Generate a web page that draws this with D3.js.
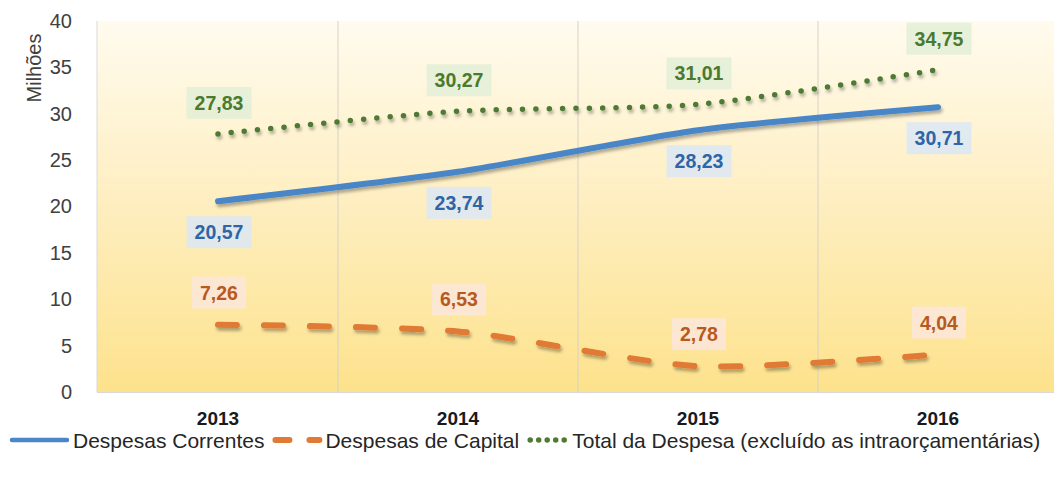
<!DOCTYPE html>
<html>
<head>
<meta charset="utf-8">
<script src="https://cdn.jsdelivr.net/npm/d3@7"></script>
<style>
  body { margin: 0; background: #fff; }
  svg { display: block; }
  text { font-family: "Liberation Sans", Arial, sans-serif; }
</style>
</head>
<body>
<svg id="chart" width="1054" height="478"></svg>
<script>
const years = ["2013", "2014", "2015", "2016"];
const correntes = [20.57, 23.74, 28.23, 30.71];
const capital = [7.26, 6.53, 2.78, 4.04];
const total = [27.83, 30.27, 31.01, 34.75];
const yTicks = [0, 5, 10, 15, 20, 25, 30, 35, 40];

const series = [
  { name: "Despesas Correntes", values: correntes, color: "#4a86c8", text: "#2f64a6", box: "#dce8f6", width: 6, dash: null, labelDy: 31 },
  { name: "Despesas de Capital", values: capital, color: "#e07a35", text: "#b85a1e", box: "#fbe6da", width: 6, dash: "19 27", labelDy: -32 },
  { name: "Total da Despesa (excluído as intraorçamentárias)", values: total, color: "#4f7a34", text: "#4a7a30", box: "#e3eed7", width: 5.5, dash: "0 13.3", labelDy: -31 },
];

const svg = d3.select("#chart");
const plot = { left: 97, right: 1058, top: 21, bottom: 392 };

const x = d3.scaleBand().domain(years).range([plot.left + 1, plot.right]);
const y = d3.scaleLinear().domain([0, 40]).range([plot.bottom, plot.top]);

const defs = svg.append("defs");
const grad = defs.append("linearGradient").attr("id", "bg").attr("x1", 0).attr("y1", 0).attr("x2", 0).attr("y2", 1);
grad.append("stop").attr("offset", "0%").attr("stop-color", "#fffbee");
grad.append("stop").attr("offset", "45%").attr("stop-color", "#feefc4");
grad.append("stop").attr("offset", "100%").attr("stop-color", "#fde28c");

defs.append("filter").attr("id", "shadow").attr("x", "-10%").attr("y", "-50%").attr("width", "120%").attr("height", "200%")
  .append("feDropShadow").attr("dx", 1.5).attr("dy", 3).attr("stdDeviation", 1.8)
  .attr("flood-color", "#000").attr("flood-opacity", 0.3);

svg.append("rect")
  .attr("x", plot.left).attr("y", plot.top)
  .attr("width", plot.right - plot.left).attr("height", plot.bottom - plot.top)
  .attr("fill", "url(#bg)");

// vertical gridlines between categories
svg.append("g").selectAll("line")
  .data(years.slice(0, -1))
  .join("line")
  .attr("x1", d => x(d) + x.bandwidth()).attr("x2", d => x(d) + x.bandwidth())
  .attr("y1", plot.top).attr("y2", plot.bottom)
  .attr("stroke", "#d6d2c8").attr("stroke-width", 1);

svg.append("line").attr("x1", plot.left).attr("x2", plot.left).attr("y1", plot.top).attr("y2", plot.bottom)
  .attr("stroke", "#d9d9d9");
svg.append("line").attr("x1", plot.left).attr("x2", plot.right).attr("y1", plot.bottom + 0.5).attr("y2", plot.bottom + 0.5)
  .attr("stroke", "#d9d9d9");

// y axis
const yAxis = svg.append("g")
  .attr("transform", `translate(${plot.left - 25},0)`)
  .call(d3.axisLeft(y).tickValues(yTicks).tickSize(0).tickPadding(0));
yAxis.select(".domain").remove();
yAxis.selectAll("text").attr("font-size", 20).attr("fill", "#404040")
  .style("font-family", null);

svg.append("text")
  .attr("transform", `translate(41,68) rotate(-90)`)
  .attr("text-anchor", "middle")
  .attr("font-size", 20).attr("fill", "#404040")
  .text("Milhões");

// x axis
const xAxis = svg.append("g")
  .attr("transform", `translate(0,${plot.bottom + 20})`)
  .call(d3.axisBottom(x).tickSize(0).tickPadding(0));
xAxis.select(".domain").remove();
xAxis.selectAll("text").attr("font-size", 19).attr("font-weight", "bold").attr("fill", "#1a1a1a")
  .attr("dy", "0.7em").style("font-family", null);

// lines
const line = d3.line()
  .x((d, i) => x(years[i]) + x.bandwidth() / 2)
  .y(d => y(d))
  .curve(d3.curveCardinal.tension(0.3));

series.forEach(s => {
  svg.append("path")
    .datum(s.values)
    .attr("d", line)
    .attr("fill", "none")
    .attr("stroke", s.color)
    .attr("stroke-width", s.width)
    .attr("stroke-linecap", "round")
    .attr("stroke-dasharray", s.dash)
    .attr("filter", "url(#shadow)");
});

// data labels
series.forEach(s => {
  const g = svg.append("g");
  s.values.forEach((v, i) => {
    const cx = x(years[i]) + x.bandwidth() / 2 + 1;
    const cy = y(v) + s.labelDy;
    const lg = g.append("g");
    const rect = lg.append("rect");
    const t = lg.append("text")
      .attr("x", cx).attr("y", cy)
      .attr("text-anchor", "middle").attr("dy", "0.36em")
      .attr("font-size", 19.5).attr("font-weight", "bold")
      .attr("fill", s.text)
      .text(d3.format(".2f")(v).replace(".", ","));
    const bb = t.node().getBBox();
    rect.attr("x", cx - bb.width / 2 - 8).attr("y", cy - 16)
      .attr("width", bb.width + 16).attr("height", 32)
      .attr("fill", s.box).attr("opacity", 0.85);
  });
});

// legend
const legend = svg.append("g").attr("transform", "translate(0,440)");
let lx = 12;
series.forEach((s, i) => {
  const sw = i === 0 ? 58 : i === 1 ? 50 : 42;
  legend.append("line")
    .attr("x1", lx + (i === 0 ? 0 : 3)).attr("x2", lx + sw - 3)
    .attr("y1", 0).attr("y2", 0)
    .attr("stroke", s.color).attr("stroke-width", i === 0 ? 4.5 : s.width)
    .attr("stroke-linecap", "round")
    .attr("stroke-dasharray", i === 1 ? "14 20" : (i === 2 ? "0 8.5" : null));
  const t = legend.append("text")
    .attr("x", lx + sw + 3).attr("y", 0).attr("dy", "0.36em")
    .attr("font-size", 21).attr("fill", "#262626")
    .text(s.name);
  lx += sw + 3 + t.node().getComputedTextLength() + 8;
});
</script>
</body>
</html>
